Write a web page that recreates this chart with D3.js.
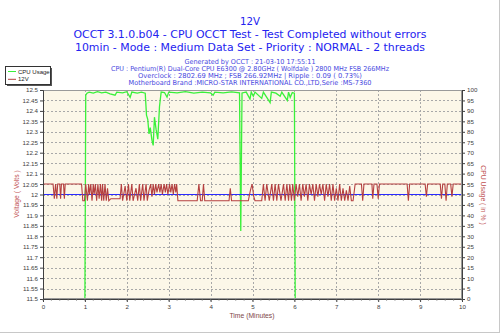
<!DOCTYPE html>
<html><head><meta charset="utf-8">
<script src="https://cdn.jsdelivr.net/npm/d3@7"></script>
<style>body{margin:0;background:#fff;} svg{display:block;}</style>
</head><body>
<script>
// ---- data ----
const titleLines = ["12V",
 "OCCT 3.1.0.b04 - CPU OCCT Test - Test Completed without errors",
 "10min - Mode : Medium Data Set - Priority : NORMAL - 2 threads"];
const infoLines = ["Generated by OCCT : 21-03-10 17:55:11",
 "CPU : Pentium(R) Dual-Core CPU E6300 @ 2.80GHz ( Wolfdale ) 2800 MHz FSB 266MHz",
 "Overclock : 2802.69 MHz ; FSB 266.92MHz | Ripple : 0.09 ( 0.73%)",
 "Motherboard Brand :MICRO-STAR INTERNATIONAL CO.,LTD,Serie :MS-7360"];
const seriesNames = ["CPU Usage", "12V"];
const xTicks = [0,1,2,3,4,5,6,7,8,9,10];
const voltTicks = [11.5,11.55,11.6,11.65,11.7,11.75,11.8,11.85,11.9,11.95,12,12.05,12.1,12.15,12.2,12.25,12.3,12.35,12.4,12.45,12.5];
const cpuTicks = [0,5,10,15,20,25,30,35,40,45,50,55,60,65,70,75,80,85,90,95,100];
const refVolt = 12;

const voltTime = [0,0.24,0.27,0.30,0.33,0.35,0.40,0.42,0.44,0.49,0.51,0.53,0.92,0.95,0.99,1.02,1.06,1.09,1.11,1.14,1.17,1.20,1.22,1.25,1.28,1.31,1.34,1.37,1.40,1.42,1.45,1.48,1.51,1.54,1.57,1.62,1.84,1.87,1.90,1.96,2.00,2.04,2.07,2.12,2.15,2.22,2.26,2.30,2.33,2.38,2.41,2.46,2.49,2.53,2.57,2.60,2.63,2.66,2.69,2.72,2.76,2.79,2.82,2.85,2.89,2.92,2.95,2.98,3.02,3.05,3.08,3.11,3.14,3.17,3.19,3.22,3.68,3.72,3.76,3.80,3.83,3.86,4.44,4.47,4.50,4.90,4.95,4.99,5.03,5.06,5.22,5.26,5.30,5.34,5.40,5.46,5.50,5.54,5.58,5.62,5.68,5.74,5.78,5.82,5.86,5.89,5.93,5.96,6.00,6.04,6.08,6.12,6.16,6.20,6.24,6.28,6.32,6.36,6.40,6.44,6.48,6.52,6.56,6.60,6.64,6.68,6.72,6.76,6.80,6.84,6.88,6.92,6.96,7.00,7.04,7.08,7.12,7.16,7.20,7.24,7.28,7.32,7.36,7.40,7.45,7.60,7.63,7.66,7.85,7.87,7.90,7.97,8.00,8.03,8.69,8.72,8.75,9.12,9.15,9.18,9.48,9.51,9.54,9.59,9.62,9.65,9.73,9.76,9.79,10];
const voltValue = [12.05,12.05,11.98,12.05,11.98,12.05,12.05,11.98,12.05,12.05,11.98,12.05,12.05,11.97,11.97,12.05,11.97,12.05,12.0,12.05,11.97,12.05,12.0,12.05,11.97,12.05,11.98,12.05,11.97,12.05,11.97,12.05,11.97,12.03,11.97,11.98,11.98,12.05,11.97,12.04,11.97,12.05,11.97,12.05,11.97,12.03,11.97,12.05,11.97,12.05,11.97,12.05,11.97,12.02,12.05,11.99,12.05,12.0,12.05,12.01,12.05,12.01,12.05,12.0,12.05,12.01,12.05,12.0,12.05,12.01,12.05,12.0,12.05,12.01,12.05,11.97,11.97,12.05,11.97,11.97,12.05,11.97,11.97,12.03,11.97,11.97,12.02,12.05,11.99,11.97,11.97,12.05,11.97,12.05,11.97,12.05,11.97,12.05,11.97,12.05,11.97,12.05,11.97,12.05,11.97,12.05,11.97,12.05,11.97,12.05,11.99,12.05,11.97,12.05,11.99,12.05,11.97,12.05,12.0,12.05,11.97,12.05,11.99,12.05,12.0,12.05,11.97,12.05,11.99,12.05,11.97,12.05,11.97,12.03,11.97,12.05,11.97,12.03,11.97,12.02,11.97,12.04,11.97,11.97,12.05,12.05,11.97,12.05,12.05,11.98,12.05,12.05,11.98,12.05,12.05,11.97,12.05,12.05,11.99,12.05,12.05,11.98,12.05,12.05,11.97,12.05,12.05,11.99,12.05,12.05];

const cpuTime = [0,1.0,1.02,1.05,1.1,1.2,1.3,1.4,1.5,1.6,1.72,1.76,1.9,2.0,2.08,2.12,2.25,2.35,2.44,2.47,2.50,2.53,2.56,2.60,2.63,2.66,2.70,2.74,2.78,2.82,2.9,2.96,3.0,3.2,3.4,3.6,3.8,4.0,4.06,4.1,4.3,4.5,4.69,4.72,4.75,4.85,4.94,4.97,5.02,5.06,5.22,5.26,5.42,5.45,5.56,5.66,5.7,5.83,5.86,5.9,5.95,6.0,6.02,10];
const cpuValue = [0,0,97.5,98.5,99,98.5,99.2,98.6,99,98.2,97.5,99,98.6,99.2,96.5,99,98.5,99,98.5,88,86,79,82,76,73.5,87,81,76.5,92,99,98.8,96.6,99,98.6,99.2,98.5,99,98.6,97.5,99,98.6,99.1,98.6,32.5,98.6,99,95.7,99,97,99,96,99,94,99,98.5,97,99,95,99,96.5,98.8,98.5,0,0];

// ---- layout ----
const W = 500, H = 333;
const L = 43, R = 462, T = 90, B = 299;
const svg = d3.select("body").append("svg").attr("width", W).attr("height", H);
const x = d3.scaleLinear().domain([0,10]).range([L,R]);
const yV = d3.scaleLinear().domain([11.5,12.5]).range([B,T]);
const yC = d3.scaleLinear().domain([0,100]).range([B,T]);

// outer border (right/bottom)
svg.append("line").attr("x1",499.5).attr("x2",499.5).attr("y1",0).attr("y2",333).attr("stroke","#c8c8c8");
svg.append("line").attr("x1",0).attr("x2",500).attr("y1",332.5).attr("y2",332.5).attr("stroke","#c8c8c8");

// titles
const titleY = [21, 34, 47], titleW = [20, 353, 350];
titleLines.forEach((t,i) => {
  svg.append("text").attr("x",250).attr("y",titleY[i]+4).attr("text-anchor","middle")
    .attr("font-family","DejaVu Sans").attr("font-size",11).attr("fill","#2323f0")
    .attr("textLength",titleW[i]).attr("lengthAdjust","spacingAndGlyphs").text(t);
});
const infoY = [61.3, 68.3, 75.3, 82], infoW = [131, 278, 224, 243];
infoLines.forEach((t,i) => {
  svg.append("text").attr("x",250).attr("y",infoY[i]+2.5).attr("text-anchor","middle")
    .attr("font-family","DejaVu Sans").attr("font-size",6.8).attr("fill","#4848e0")
    .attr("textLength",infoW[i]).attr("lengthAdjust","spacingAndGlyphs").text(t);
});

// plot bg
svg.append("rect").attr("x",L).attr("y",T).attr("width",R-L).attr("height",B-T).attr("fill","#fcf7e8");

// grid
const g = svg.append("g").attr("stroke","#a8a8a8").attr("stroke-dasharray","2,2").attr("stroke-width",1);
voltTicks.slice(1,-1).forEach(v => g.append("line").attr("x1",L).attr("x2",R).attr("y1",Math.round(yV(v))+0.5).attr("y2",Math.round(yV(v))+0.5));
xTicks.slice(1,-1).forEach(v => g.append("line").attr("y1",T).attr("y2",B).attr("x1",Math.round(x(v))+0.5).attr("x2",Math.round(x(v))+0.5));

// lines
const lineC = d3.line().x(d=>x(d[0])).y(d=>yC(d[1]));
const lineV = d3.line().x(d=>x(d[0])).y(d=>yV(d[1]));
svg.append("path").datum(cpuTime.map((t,i)=>[t,cpuValue[i]])).attr("d",lineC)
  .attr("fill","none").attr("stroke","#3af03a").attr("stroke-width",1.3);
svg.append("line").attr("x1",L).attr("x2",R).attr("y1",yV(refVolt)).attr("y2",yV(refVolt)).attr("stroke","#2b2bff").attr("stroke-width",1.2);
svg.append("path").datum(voltTime.map((t,i)=>[t,voltValue[i]])).attr("d",lineV)
  .attr("fill","none").attr("stroke","#b54040").attr("stroke-width",1.1);

// frame
svg.append("rect").attr("x",L+0.5).attr("y",T+0.5).attr("width",R-L-1).attr("height",B-T-1)
  .attr("fill","none").attr("stroke","#9a9a9a");

// axes
function styleAxis(sel){
  sel.selectAll("text").attr("font-family","Liberation Sans").attr("font-size",6.2).attr("fill","#404040");
  sel.selectAll("line").attr("stroke","#404040");
  sel.select(".domain").attr("stroke","#404040");
}
const axL = svg.append("g").attr("transform",`translate(${L},0)`)
  .call(d3.axisLeft(yV).tickValues(voltTicks).tickFormat(d3.format("")).tickSize(3).tickPadding(2));
styleAxis(axL);
const axR = svg.append("g").attr("transform",`translate(${R},0)`)
  .call(d3.axisRight(yC).tickValues(cpuTicks).tickSize(3).tickPadding(2));
styleAxis(axR);
const axB = svg.append("g").attr("transform",`translate(0,${B})`)
  .call(d3.axisBottom(x).tickValues(xTicks).tickSize(3).tickPadding(3));
styleAxis(axB);
// minor ticks on bottom
const minor = d3.range(0,10.01,0.2);
svg.append("g").selectAll("line").data(minor).join("line")
  .attr("x1",d=>x(d)).attr("x2",d=>x(d)).attr("y1",B).attr("y2",B+1.5).attr("stroke","#606060");

// axis titles
const axColor = "#c05050";
svg.append("text").attr("transform",`translate(19,${194}) rotate(-90)`).attr("text-anchor","middle")
  .attr("font-family","Liberation Sans").attr("font-size",6.8).attr("fill",axColor).text("Voltage ( Volts )");
svg.append("text").attr("transform",`translate(481,${195}) rotate(90)`).attr("text-anchor","middle")
  .attr("font-family","Liberation Sans").attr("font-size",6.8).attr("fill",axColor).text("CPU Usage ( in % )");
svg.append("text").attr("x",252).attr("y",318).attr("text-anchor","middle")
  .attr("font-family","Liberation Sans").attr("font-size",6.8).attr("fill","#804848").text("Time (Minutes)");

// legend
const lg = svg.append("g");
lg.append("rect").attr("x",7).attr("y",68).attr("width",45).attr("height",18).attr("fill","#555");
lg.append("rect").attr("x",5.5).attr("y",66.5).attr("width",45).attr("height",18).attr("fill","#fff").attr("stroke","#333");
const lgColors = ["#3af03a","#b54040"];
seriesNames.forEach((n,i)=>{
  const yy = 71.5 + i*7.8;
  lg.append("line").attr("x1",8).attr("x2",16).attr("y1",yy).attr("y2",yy).attr("stroke",lgColors[i]).attr("stroke-width",1);
  lg.append("text").attr("x",18).attr("y",yy+2).attr("font-family","Liberation Sans").attr("font-size",6).attr("fill","#222").text(n);
});
</script>
</body></html>
